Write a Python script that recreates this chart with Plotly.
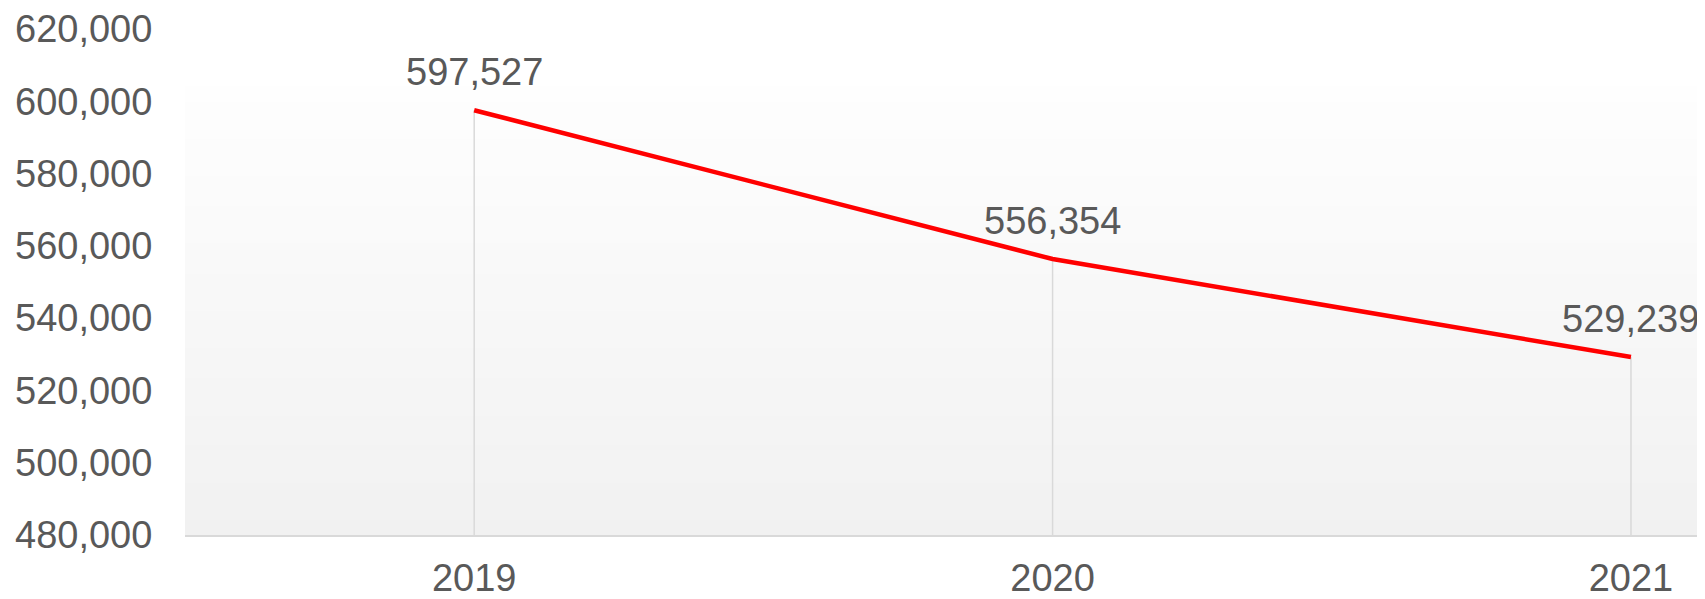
import plotly.graph_objects as go

categories = ["2019", "2020", "2021"]
values = [597527, 556354, 529239]
y_tick_values = [480000, 500000, 520000, 540000, 560000, 580000, 600000, 620000]
y_tick_labels = ["480,000", "500,000", "520,000", "540,000", "560,000", "580,000", "600,000", "620,000"]

TEXT = "#595959"
FONT = "Liberation Sans, Arial, sans-serif"
Y_MIN, Y_MAX = 480000, 620000
FS = 38

fig = go.Figure()

# drop lines from each point to the axis
dx, dy = [], []
for c, v in zip(categories, values):
    dx += [c, c, None]
    dy += [Y_MIN, v, None]
fig.add_trace(go.Scatter(x=dx, y=dy, mode="lines",
                         line=dict(color="#d9d9d9", width=1.5),
                         hoverinfo="skip", showlegend=False))

fig.add_trace(go.Scatter(x=categories, y=values, mode="lines",
                         line=dict(color="#ff0000", width=4.5),
                         showlegend=False))

for i, v in enumerate(values):
    fig.add_annotation(x=i, y=v, xref="x", yref="y", text=f"{v:,}", showarrow=False,
                       yshift=38, font=dict(size=FS, color=TEXT, family=FONT))

# gradient background of the plot area
n = 60
top = 0.886
shapes = []
for i in range(n):
    y0 = top * i / n
    y1 = top * (i + 1) / n
    t = (i + 0.5) / n
    g = round(241 + (254 - 241) * t)
    shapes.append(dict(type="rect", xref="paper", yref="paper",
                       x0=0, x1=1, y0=y0, y1=y1 + 0.002,
                       fillcolor=f"rgb({g},{g},{g})", line=dict(width=0),
                       layer="below"))

fig.update_layout(
    width=1697, height=591,
    margin=dict(l=177, r=0, t=19, b=64),
    paper_bgcolor="white", plot_bgcolor="white",
    font=dict(family=FONT, size=FS, color=TEXT),
    shapes=shapes,
    xaxis=dict(type="category", categoryorder="array", categoryarray=categories,
               range=[-0.5, 2.128], showgrid=False, zeroline=False,
               showline=True, linecolor="#d9d9d9", linewidth=2,
               ticks="outside", ticklen=8, tickcolor="rgba(0,0,0,0)",
               ticklabeloverflow="allow",
               tickfont=dict(size=FS, color=TEXT, family=FONT)),
    yaxis=dict(range=[Y_MIN, Y_MAX], tickvals=y_tick_values, ticktext=y_tick_labels,
               showgrid=False, zeroline=False, showline=False,
               ticks="outside", ticklen=24, tickcolor="rgba(0,0,0,0)",
               ticklabeloverflow="allow",
               tickfont=dict(size=FS, color=TEXT, family=FONT)),
)

fig.write_html("out.html")
